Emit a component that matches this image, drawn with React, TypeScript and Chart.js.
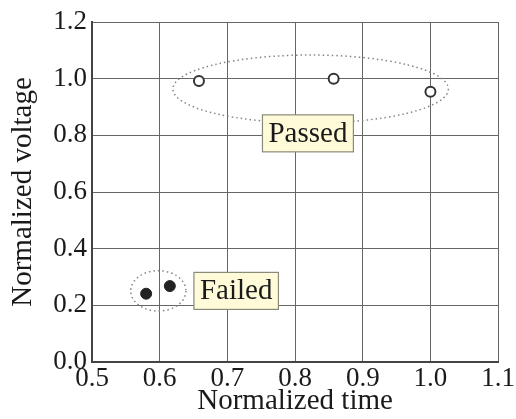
import React, { useEffect, useRef } from "react";
import { Chart, registerables } from "chart.js";

Chart.register(...registerables);

const xTicks = [0.5, 0.6, 0.7, 0.8, 0.9, 1.0, 1.1];
const yTicks = [0.0, 0.2, 0.4, 0.6, 0.8, 1.0, 1.2];

const passedTime = [0.658, 0.857, 1.0];
const passedVoltage = [0.992, 1.0, 0.954];
const failedTime = [0.58, 0.615];
const failedVoltage = [0.241, 0.268];

// groups: [centerX, centerY, radiusX, radiusY]
const groupNames = ["Passed", "Failed"];
const groupEllipses = [
  [0.823, 0.9635, 0.2035, 0.12],
  [0.598, 0.251, 0.0408, 0.0713],
];
const groupLabelPos = [
  [0.819, 0.807],
  [0.713, 0.251],
];

const FONT = "'Liberation Serif', 'Times New Roman', serif";

const annotationPlugin = {
  id: "groupAnnotations",
  beforeDatasetsDraw(chart: any) {
    const { ctx, scales } = chart;
    const xs = scales.x;
    const ys = scales.y;
    ctx.save();
    ctx.strokeStyle = "#858585";
    ctx.lineWidth = 1.5;
    ctx.setLineDash([1.5, 3]);
    groupEllipses.forEach(([cx, cy, rx, ry]) => {
      const px = xs.getPixelForValue(cx);
      const py = ys.getPixelForValue(cy);
      const prx = Math.abs(xs.getPixelForValue(cx + rx) - px);
      const pry = Math.abs(ys.getPixelForValue(cy + ry) - py);
      ctx.beginPath();
      ctx.ellipse(px, py, prx, pry, 0, 0, Math.PI * 2);
      ctx.stroke();
    });
    ctx.restore();
  },
  afterDatasetsDraw(chart: any) {
    const { ctx, scales } = chart;
    const xs = scales.x;
    const ys = scales.y;
    ctx.save();
    ctx.font = `29px ${FONT}`;
    ctx.textAlign = "center";
    ctx.textBaseline = "middle";
    groupNames.forEach((name, i) => {
      const [lx, ly] = groupLabelPos[i];
      const px = xs.getPixelForValue(lx);
      const py = ys.getPixelForValue(ly);
      const w = ctx.measureText(name).width + 12;
      const h = 37;
      ctx.fillStyle = "#fffbd9";
      ctx.strokeStyle = "#8a8a7a";
      ctx.lineWidth = 1.2;
      ctx.fillRect(px - w / 2, py - h / 2, w, h);
      ctx.strokeRect(px - w / 2, py - h / 2, w, h);
      ctx.fillStyle = "#1a1a1a";
      ctx.fillText(name, px, py + 1);
    });
    ctx.restore();
  },
};

export default function App() {
  const ref = useRef<HTMLCanvasElement>(null);
  useEffect(() => {
    if (!ref.current) return;
    const chart = new Chart(ref.current, {
      type: "scatter",
      data: {
        datasets: [
          {
            label: "Passed",
            data: passedTime.map((t, i) => ({ x: t, y: passedVoltage[i] })),
            pointRadius: 5,
            pointBackgroundColor: "#ffffff",
            pointBorderColor: "#333333",
            pointBorderWidth: 2,
          },
          {
            label: "Failed",
            data: failedTime.map((t, i) => ({ x: t, y: failedVoltage[i] })),
            pointRadius: 5.5,
            pointBackgroundColor: "#222222",
            pointBorderColor: "#222222",
            pointBorderWidth: 1,
          },
        ],
      },
      options: {
        responsive: false,
        animation: false,
        layout: { padding: { top: 22, right: 17, left: 0, bottom: 0 }, autoPadding: false },
        plugins: { legend: { display: false }, tooltip: { enabled: false } },
        scales: {
          x: {
            type: "linear",
            min: 0.5,
            max: 1.1,
            afterBuildTicks: (s: any) => {
              s.ticks = xTicks.map((v) => ({ value: v }));
            },
            afterFit: (s: any) => {
              s.height = 57;
            },
            ticks: {
              color: "#1a1a1a",
              font: { family: FONT, size: 27 },
              padding: 1,
              maxRotation: 0,
              callback: (v: any) => Number(v).toFixed(1),
            },
            grid: { color: "#666666", lineWidth: 1, drawTicks: false },
            border: { color: "#444", width: 2 },
            title: {
              display: true,
              text: "Normalized time",
              color: "#1a1a1a",
              font: { family: FONT, size: 29 },
              padding: { top: 0, bottom: 0 },
            },
          },
          y: {
            type: "linear",
            min: 0,
            max: 1.2,
            afterBuildTicks: (s: any) => {
              s.ticks = yTicks.map((v) => ({ value: v }));
            },
            afterFit: (s: any) => {
              s.width = 92;
            },
            ticks: {
              color: "#1a1a1a",
              font: { family: FONT, size: 27 },
              padding: 5,
              callback: (v: any) => Number(v).toFixed(1),
            },
            grid: { color: "#666666", lineWidth: 1, drawTicks: false },
            border: { color: "#444", width: 2 },
            title: {
              display: true,
              text: "Normalized voltage",
              color: "#1a1a1a",
              font: { family: FONT, size: 29 },
              padding: { top: 6, bottom: 0 },
            },
          },
        },
      },
      plugins: [annotationPlugin],
    });
    return () => chart.destroy();
  }, []);
  return (
    <div style={{ position: "absolute", left: 0, top: 0, width: 516, height: 419, background: "#fff" }}>
      <canvas ref={ref} width={516} height={419} style={{ display: "block" }} />
    </div>
  );
}
